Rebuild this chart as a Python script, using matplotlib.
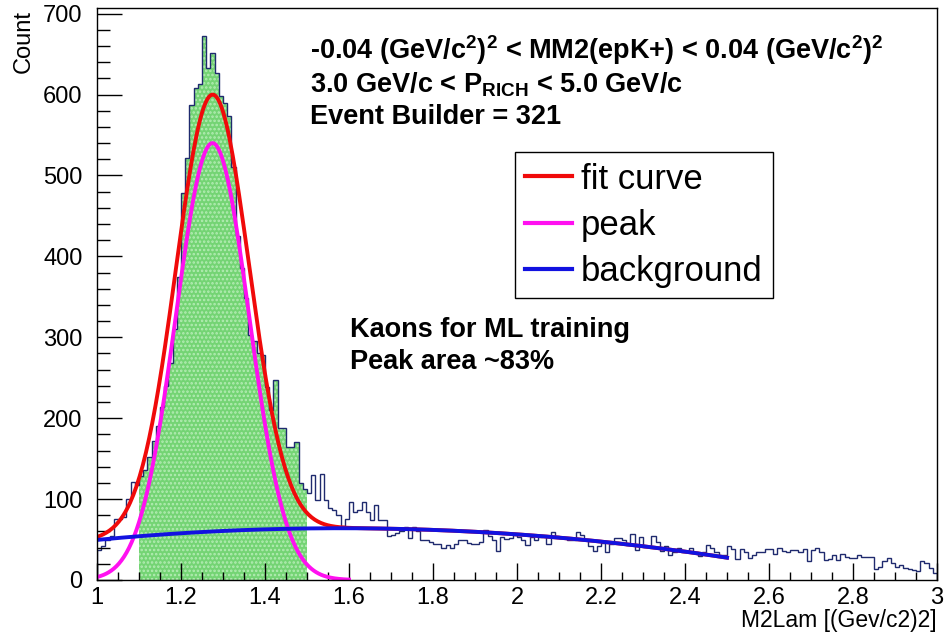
import numpy as np
import matplotlib
matplotlib.use('Agg')
import matplotlib.pyplot as plt
from matplotlib.ticker import MultipleLocator

plt.rcParams['font.family'] = ['Liberation Sans', 'DejaVu Sans']
plt.rcParams['mathtext.fontset'] = 'custom'
plt.rcParams['mathtext.rm'] = 'Liberation Sans'
plt.rcParams['mathtext.bf'] = 'Liberation Sans:bold'
plt.rcParams['hatch.linewidth'] = 1.2

# M2Lam histogram, 200 bins of 0.01 between 1.0 and 3.0
bin_edges = np.round(np.linspace(1.0, 3.0, 201), 2)
counts = [
    37, 42, 50, 54, 76, 76, 78, 100, 121, 118,        # 1.00
    128, 136, 152, 172, 190, 214, 240, 268, 310, 375,  # 1.10
    478, 522, 587, 608, 613, 673, 633, 651, 627, 598,  # 1.20
    590, 573, 511, 425, 386, 349, 303, 295, 281, 278,  # 1.30
    239, 210, 247, 188, 188, 165, 165, 171, 120, 112,  # 1.40
    108, 130, 99, 131, 99, 89, 87, 80, 67, 75,         # 1.50
    97, 84, 87, 97, 84, 74, 93, 74, 74, 54,            # 1.60
    56, 58, 60, 65, 52, 66, 60, 49, 49, 47,            # 1.70
    45, 44, 40, 43, 39, 45, 49, 49, 46, 44,            # 1.80
    44, 47, 62, 54, 49, 36, 53, 51, 52, 56,            # 1.90
    53, 50, 43, 53, 49, 53, 54, 45, 59, 54,            # 2.00
    52, 52, 49, 50, 59, 56, 49, 42, 36, 42,            # 2.10
    46, 35, 45, 52, 52, 49, 43, 57, 37, 53,            # 2.20
    41, 41, 54, 47, 36, 42, 31, 35, 39, 34,            # 2.30
    34, 39, 34, 30, 34, 43, 39, 35, 31, 31,            # 2.40
    42, 38, 26, 38, 35, 27, 31, 35, 35, 38,            # 2.50
    38, 32, 39, 36, 35, 37, 37, 35, 38, 23,            # 2.60
    37, 39, 35, 25, 26, 31, 25, 32, 29, 27,            # 2.70
    27, 31, 28, 29, 29, 14, 16, 23, 27, 21,            # 2.80
    16, 18, 15, 13, 12, 11, 23, 21, 15, 9,             # 2.90
]
counts = np.array(counts)

# selected window for ML training (green)
sel_lo, sel_hi = 1.1, 1.5

# fit results: gaus peak + pol2 background
peak_amp, peak_mean, peak_sigma = 540.0, 1.275, 0.087
bkg_pars = [-43.35, 135.88, -43.0]
fit_range = (1.0, 2.5)
peak_range = (1.0, 1.6)


def peak(x):
    return peak_amp * np.exp(-0.5 * ((x - peak_mean) / peak_sigma) ** 2)


def background(x):
    return bkg_pars[0] + bkg_pars[1] * x + bkg_pars[2] * x ** 2


fig = plt.figure(figsize=(9.45, 6.34), dpi=100)
ax = fig.add_axes([97 / 945, 54 / 634, 840 / 945, 572 / 634])

# green filled window
i0 = int(round((sel_lo - 1.0) / 0.01))
i1 = int(round((sel_hi - 1.0) / 0.01))
ax.stairs(counts[i0:i1], bin_edges[i0:i1 + 1], fill=True,
          facecolor='#74d474', edgecolor='#b4ecb4', hatch='....', linewidth=0)

# histogram outline
ax.stairs(counts, bin_edges, color='#1f2a6e', linewidth=1.0)

xf = np.linspace(fit_range[0], fit_range[1], 400)
xp = np.linspace(peak_range[0], peak_range[1], 300)
ax.plot(xf, peak(xf) + background(xf), color='#f00a0a', lw=2.8, label='fit curve')
ax.plot(xp, peak(xp), color='#ff10f0', lw=2.8, label='peak')
ax.plot(xf, background(xf), color='#1212e0', lw=2.8, label='background')

ax.set_xlim(1.0, 3.0)
ax.set_ylim(0, 707)
ax.xaxis.set_major_locator(MultipleLocator(0.2))
ax.xaxis.set_minor_locator(MultipleLocator(0.05))
ax.yaxis.set_major_locator(MultipleLocator(100))
ax.yaxis.set_minor_locator(MultipleLocator(20))
ax.set_xticks(np.round(np.arange(1.0, 3.01, 0.2), 1))
ax.set_xticklabels(['1', '1.2', '1.4', '1.6', '1.8', '2', '2.2', '2.4', '2.6', '2.8', '3'])
ax.tick_params(axis='both', which='both', direction='in', labelsize=17, width=1)
ax.tick_params(axis='x', which='major', length=12.3, pad=5)
ax.tick_params(axis='x', which='minor', length=6.1)
ax.tick_params(axis='y', which='major', length=18, pad=10.5)
ax.tick_params(axis='y', which='minor', length=9)
for s in ax.spines.values():
    s.set_linewidth(1.0)

ax.set_xlabel('M2Lam [(Gev/c2)2]', fontsize=16.5, loc='right')
ax.xaxis.set_label_coords(1.0, -0.05)
ax.set_ylabel('Count', fontsize=17, loc='top')
ax.yaxis.set_label_coords(-0.074, 0.997)

# cut descriptions
ax.text(1.507, 655, r'-0.04 (GeV/c$^{\mathbf{2}}$)$^{\mathbf{2}}$ < MM2(epK+) < 0.04 (GeV/c$^{\mathbf{2}}$)$^{\mathbf{2}}$',
        fontsize=19.5, fontweight='bold', va='center')
ax.text(1.507, 612, r'3.0 GeV/c < P$_{\mathbf{RICH}}$ < 5.0 GeV/c',
        fontsize=19.5, fontweight='bold', va='center')
ax.text(1.507, 572, 'Event Builder = 321', fontsize=19.5, fontweight='bold', va='center')
ax.text(1.602, 309, 'Kaons for ML training', fontsize=19.5, fontweight='bold', va='center')
ax.text(1.602, 270, 'Peak area ~83%', fontsize=19.5, fontweight='bold', va='center')

leg = ax.legend(loc='upper left', bbox_to_anchor=(0.4976, 0.748), fontsize=25,
                frameon=True, fancybox=False, shadow=False, borderpad=0.3,
                handlelength=1.35, handletextpad=0.25, labelspacing=0.38,
                borderaxespad=0)
leg.get_frame().set_edgecolor('black')
leg.get_frame().set_linewidth(1.0)
leg.get_frame().set_alpha(1)
for line in leg.get_lines():
    line.set_linewidth(3)

fig.savefig('out.png', dpi=100)
